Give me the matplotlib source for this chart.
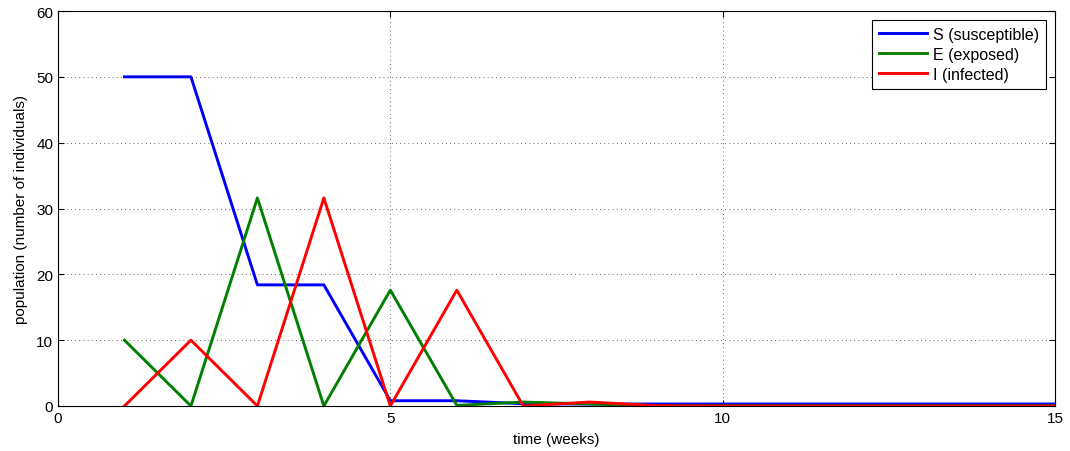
import matplotlib
matplotlib.use("Agg")
import matplotlib.pyplot as plt

weeks = list(range(1, 16))
S = [50, 50, 18.4, 18.4, 0.8, 0.8, 0.35, 0.3, 0.3, 0.3, 0.3, 0.3, 0.3, 0.3, 0.3]
E = [10, 0, 31.6, 0, 17.6, 0.1, 0.6, 0.3, 0.05, 0.05, 0.05, 0.05, 0.05, 0.05, 0.05]
I = [0, 10, 0, 31.6, 0, 17.6, 0, 0.6, 0.05, 0, 0, 0, 0, 0, 0]
labels = ["S (susceptible)", "E (exposed)", "I (infected)"]
colors = ["#0000ff", "#008000", "#ff0000"]
xticks = [0, 5, 10, 15]
yticks = [0, 10, 20, 30, 40, 50, 60]

plt.rcParams['font.family'] = ['Liberation Sans', 'DejaVu Sans']
fig = plt.figure(figsize=(10.7, 4.52), dpi=100)
ax = fig.add_axes([58/1070, 45/452, (1055-58)/1070, (407-12)/452])
for y, lab, c in zip([S, E, I], labels, colors):
    ax.plot(weeks, y, color=c, lw=2.1, label=lab)
ax.set_xlim(0, 15)
ax.set_ylim(0, 60)
ax.set_xticks(xticks)
ax.set_yticks(yticks)
ax.tick_params(direction='in', labelsize=11, length=4, top=True, right=True)
ax.grid(True, linestyle=(0, (1, 4)), color='#333333', lw=0.6)
for s in ax.spines.values():
    s.set_linewidth(0.8)
ax.set_xlabel("time (weeks)", fontsize=11, labelpad=5)
ax.set_ylabel("population (number of individuals)", fontsize=11, labelpad=6)
leg = ax.legend(loc='upper right', fontsize=11.5, fancybox=False, framealpha=1,
                edgecolor='black', borderpad=0.45, labelspacing=0.3,
                handlelength=3.0, handletextpad=0.35, borderaxespad=0.55)
leg.get_frame().set_linewidth(0.8)
fig.savefig("out.png", dpi=100)
